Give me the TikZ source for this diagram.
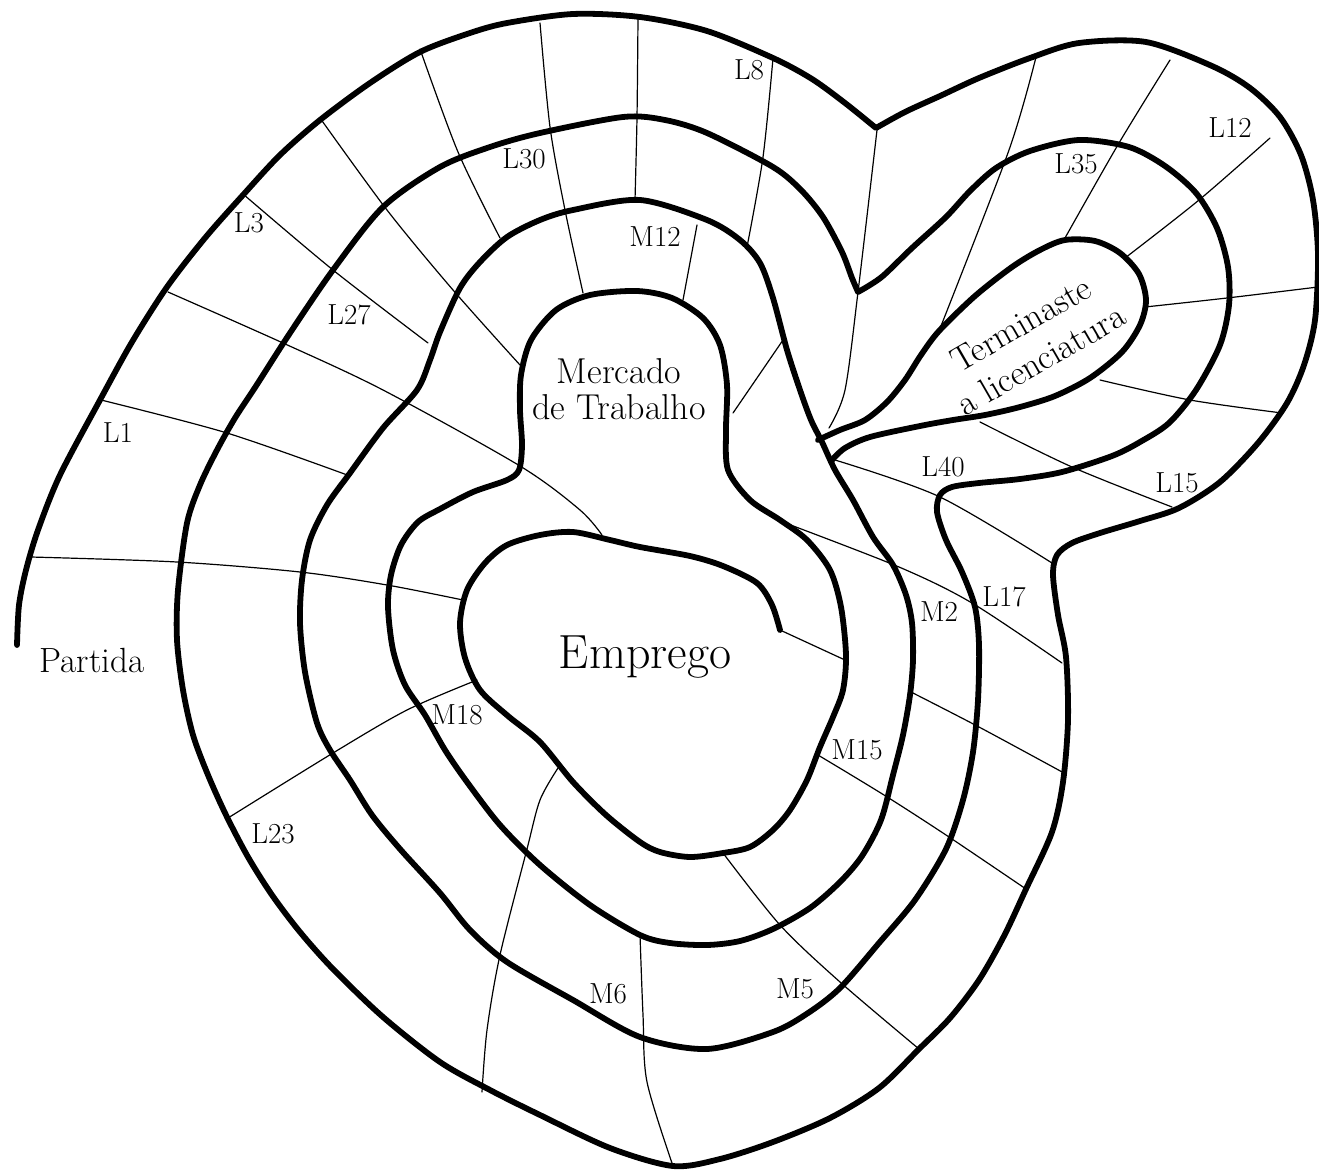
\documentclass[tikz,border=0pt]{standalone}
\usepackage{fontspec}
\begin{document}
\begin{tikzpicture}[x=1pt,y=-1pt,
  track/.style={line width=5.8pt,line cap=round,line join=round},
  divider/.style={line width=1.2pt,line cap=round,line join=round},
  cell/.style={font=\fontsize{29}{31}\selectfont,inner sep=0pt},
  place/.style={font=\fontsize{36}{40}\selectfont,inner sep=0pt,anchor=base}]
\useasboundingbox (0,0) rectangle (1319,1172);

% ---- cell dividers (thin) ----
\draw[divider] plot[smooth,tension=0.5] coordinates {(420,49) (458,152) (500,238)};
\draw[divider] plot[smooth,tension=0.5] coordinates {(320,118) (387,210) (453,290) (520,365)};
\draw[divider] plot[smooth,tension=0.5] coordinates {(243,194) (333,270) (428,343)};
\draw[divider] plot[smooth,tension=0.5] coordinates {(168,292) (283,343) (383,390) (520,466) (580,510) (602,535)};
\draw[divider] plot[smooth,tension=0.5] coordinates {(101,400) (227,433) (350,476)};
\draw[divider] plot[smooth,tension=0.5] coordinates {(31,557) (177,562) (300,572) (387,585) (463,600)};
\draw[divider] plot[smooth,tension=0.5] coordinates {(228,818) (333,753) (407,710) (477,680)};
\draw[divider] plot[smooth,tension=0.5] coordinates {(558,768) (540,800) (527,849) (500,955) (487,1030) (482,1092)};
\draw[divider] plot[smooth,tension=0.5] coordinates {(640,935) (643,1015) (647,1082) (673,1166)};
\draw[divider] plot[smooth,tension=0.5] coordinates {(723,853) (780,925) (840,982) (919,1049)};
\draw[divider] plot[smooth,tension=0.5] coordinates {(818,755) (884,795) (946,835) (1026,889)};
\draw[divider] plot[smooth,tension=0.5] coordinates {(911,692) (979,727) (1064,773)};
\draw[divider] plot[smooth,tension=0.5] coordinates {(780,521) (899,567) (972,603) (1062,663)};
\draw[divider] (780,630) -- (845,660);
\draw[divider] plot[smooth,tension=0.5] coordinates {(835,460) (940,497) (1052,563)};
\draw[divider] plot[smooth,tension=0.5] coordinates {(980,422) (1072,467) (1172,507)};
\draw[divider] plot[smooth,tension=0.5] coordinates {(1100,380) (1190,400) (1282,413)};
\draw[divider] plot[smooth,tension=0.5] coordinates {(1145,307) (1227,298) (1318,287)};
\draw[divider] plot[smooth,tension=0.5] coordinates {(1125,258) (1199,200) (1270,138)};
\draw[divider] plot[smooth,tension=0.5] coordinates {(1065,238) (1119,143) (1170,60)};
\draw[divider] plot[smooth,tension=0.5] coordinates {(1036,57) (1009,150) (939,331)};
\draw[divider] plot[smooth,tension=0.5] coordinates {(877,130) (858,292) (845,390) (829,428)};
\draw[divider] plot[smooth,tension=0.5] coordinates {(773,58) (763,157) (747,247)};
\draw[divider] plot[smooth,tension=0.5] coordinates {(638,17) (637,117) (635,200)};
\draw[divider] (697,225) -- (683,300);
\draw[divider] plot[smooth,tension=0.5] coordinates {(540,23) (550,127) (565,210) (583,293)};
\draw[divider] (733,413) -- (783,340);

% ---- the spiral track, from the start to the centre ----
\draw[track]
  plot[smooth,tension=0.5] coordinates {(17,645) (19,605) (26,570) (38,530) (60,475) (100,400)
    (132,342) (167,287) (205,238) (243,195) (280,155) (320,120) (370,83) (420,52) (470,33)
    (507,23) (573,14) (640,17) (707,31) (773,58) (812,79) (845,103) (876,128)}
  -- plot[smooth,tension=0.5] coordinates {(876,128) (905,112) (940,96) (979,78) (1030,58)
    (1079,43) (1146,42) (1212,66) (1250,88) (1280,117) (1301,155) (1313,200) (1318,255)
    (1315,320) (1304,365) (1287,403) (1258,443) (1220,482) (1179,508) (1140,521) (1100,533)
    (1072,543) (1057,555) (1053,575) (1058,615) (1066,657) (1068,720) (1063,782) (1052,832)
    (1026,889) (1004,936) (979,980) (950,1018) (919,1049) (879,1088) (830,1118) (773,1142)
    (720,1159) (673,1166) (610,1148) (540,1115) (490,1090) (440,1062) (383,1017) (333,969)
    (300,932) (272,895) (248,857) (226,815) (208,775) (193,735) (183,690) (177,640) (178,590)
    (187,523) (200,485) (217,450) (235,418) (256,386) (290,333) (333,270) (383,207) (440,167)
    (490,147) (540,133) (623,117) (665,120) (707,133) (773,167) (801,190) (823,217) (842,252)
    (852,278) (858,292)}
  -- plot[smooth,tension=0.5] coordinates {(858,292) (870,285) (884,275) (912,248) (946,217)
    (970,191) (996,168) (1030,151) (1079,140) (1129,147) (1165,166) (1196,193) (1217,228)
    (1228,267) (1229,305) (1220,345) (1196,390) (1169,423) (1140,442) (1112,456) (1062,472)
    (1020,479) (979,483) (952,487) (940,495) (937,512) (946,540) (962,572) (975,607) (979,645)
    (978,700) (973,752) (963,800) (946,849) (915,900) (879,943) (840,988) (808,1013) (773,1032)
    (707,1049) (640,1037) (573,1000) (507,962) (470,930) (440,893) (400,849) (372,815)
    (350,780) (330,750) (317,723) (305,672) (300,623) (302,580) (310,540) (327,505) (350,473)
    (383,428) (417,390) (430,360) (440,332) (460,288) (480,262) (507,237) (540,220) (573,210)
    (640,200) (707,220) (740,240) (760,263) (773,298) (787,350) (800,390) (811,420) (822,442)
    (835,470) (853,500) (873,537) (893,565) (906,595) (912,623) (913,660) (910,695) (903,735)
    (893,775) (881,820) (862,856) (840,882) (810,908) (773,929) (740,941) (707,945) (670,943)
    (640,935) (590,905) (540,865) (500,825) (467,782) (445,750) (425,715) (405,685) (393,650)
    (388,607) (391,575) (401,545) (418,522) (440,509) (473,492) (507,480) (519,470) (522,445)
    (520,410) (521,375) (531,340) (556,310) (590,295) (637,291) (672,298) (703,318) (720,345)
    (727,385) (726,430) (728,470) (750,500) (780,520) (807,540) (830,570) (841,607) (846,655)
    (843,690) (833,717) (820,747) (807,780) (790,810) (773,830) (750,847) (723,853) (690,857)
    (660,852) (640,842) (606,815) (573,782) (540,742) (508,716) (480,690) (465,658) (460,623)
    (467,590) (485,563) (507,545) (540,535) (573,532) (610,540) (640,547) (690,556) (723,566)
    (757,583) (772,605) (780,630)};

% ---- the closing loop on the right ----
\draw[track] plot[smooth,tension=0.5] coordinates {(818,440) (840,430) (865,420) (887,402)
  (905,380) (921,355) (939,331) (975,296) (1012,267) (1040,250) (1065,240) (1095,241)
  (1120,253) (1139,274) (1146,300) (1140,325) (1122,352) (1090,378) (1055,396) (1020,407)
  (985,415) (953,420) (920,426) (870,437) (845,448) (832,460)};

% ---- labels ----
\node[place,font=\fontsize{35}{40}\selectfont] (partida) at (92,672) {Partida};
\node[place] (mercado) at (619,383) {Mercado};
\node[place] (trabalho) at (619,419) {de Trabalho};
\node[place,font=\fontsize{48}{54}\selectfont] (emprego) at (645,668) {Emprego};
\node[font=\fontsize{35}{41}\selectfont,align=center,rotate=30,inner sep=0pt] (licenciatura)
  at (1031,342) {Terminaste\\a licenciatura};

\node[cell] (l1) at (118,433) {L1};
\node[cell] (l3) at (249,223) {L3};
\node[cell] (l8) at (749,70) {L8};
\node[cell] (l12) at (1230,128) {L12};
\node[cell] (l15) at (1177,483) {L15};
\node[cell] (l17) at (1004,597) {L17};
\node[cell] (l23) at (273,834) {L23};
\node[cell] (l27) at (349,315) {L27};
\node[cell] (l30) at (524,159) {L30};
\node[cell] (l35) at (1076,164) {L35};
\node[cell] (l40) at (943,467) {L40};
\node[cell] (m2) at (939,612) {M2};
\node[cell] (m5) at (795,989) {M5};
\node[cell] (m6) at (608,994) {M6};
\node[cell] (m12) at (655,237) {M12};
\node[cell] (m15) at (857,750) {M15};
\node[cell] (m18) at (457,715) {M18};
\end{tikzpicture}
\end{document}
